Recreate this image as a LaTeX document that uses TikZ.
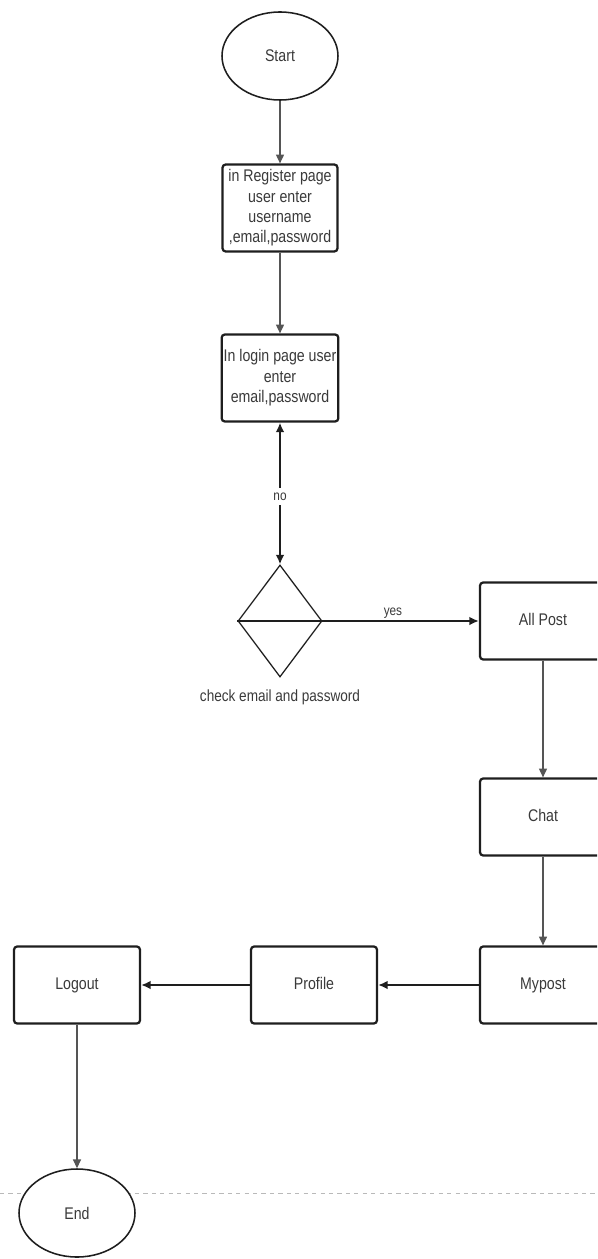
\documentclass[tikz,border=0pt]{standalone}
\usepackage{fontspec}
\setmainfont[FakeStretch=0.84]{Liberation Sans}
\usetikzlibrary{arrows.meta,positioning,shapes.geometric,calc}
\usepackage{xcolor}
\definecolor{ink}{HTML}{1E1E1E}
\definecolor{txt}{HTML}{3A3A3A}
\definecolor{thinline}{HTML}{555555}
\tikzset{
  stepbox/.style={draw=ink, rounded corners=0.8mm, line width=1.6pt, align=center, fill=white, text=txt, font=\fontsize{12}{14.5}\selectfont, inner sep=0.5mm},
  upbox/.style={stepbox, minimum width=2.875cm, minimum height=2.175cm},
  rowbox/.style={stepbox, minimum width=3.15cm, minimum height=1.925cm, text height=1.6ex, text depth=0.45ex},
  terminal/.style={ellipse, draw=ink, line width=1.1pt, fill=white, text=txt, font=\fontsize{12}{14}\selectfont, minimum width=2.9cm, minimum height=2.2cm},
  decision/.style={diamond, draw=ink, line width=0.9pt, minimum width=2.1cm, minimum height=2.8cm, inner sep=0pt},
  thinarrow/.style={-{Triangle[length=2.2mm,width=2mm]}, line width=0.9pt, draw=thinline},
  arrow/.style={-{Latex[length=2.4mm,width=2.2mm]}, line width=1.4pt, draw=ink},
  tag/.style={text=txt, font=\fontsize{10}{12}\selectfont}
}

\begin{document}
\begin{tikzpicture}
  \useasboundingbox (0,0) rectangle (14.925,-31.475);
  \clip (0,0) rectangle (14.925,-31.475);
  \coordinate (cutL) at (0,-29.825);
  \coordinate (cutR) at (14.925,-29.825);
  \draw[gray!55, dashed, line width=0.6pt] (cutL) -- (cutR);

  \node[terminal] (start) at (7.0,-1.4) {Start};
  \node[upbox] (register) at (7.0,-5.2) {in Register page\\user enter\\username\\,email,password};
  \node[upbox] (login) at (7.0,-9.45) {In login page user\\enter\\email,password};
  \node[decision] (check) at (7.0,-15.525) {};
  \node[tag, font=\fontsize{11.5}{13}\selectfont] (checklabel) at (7.0,-17.425) {check email and password};
  \node[rowbox] (allpost) at (13.575,-15.525) {All Post};
  \node[rowbox] (chat) at (13.575,-20.425) {Chat};
  \node[rowbox] (mypost) at (13.575,-24.625) {Mypost};
  \node[rowbox] (profile) at (7.85,-24.625) {Profile};
  \node[rowbox] (logout) at (1.925,-24.625) {Logout};
  \node[terminal] (end) at (1.925,-30.325) {End};

  \draw[thinarrow] (start) -- (register);
  \draw[thinarrow] (register) -- (login);
  \draw[arrow, {Latex[length=2.4mm,width=2.2mm]}-{Latex[length=2.4mm,width=2.2mm]}] (login) -- node[tag, fill=white, pos=0.52] {no} (check);
  \draw[line width=0.9pt, draw=ink] (check.west) -- (check.east);
  \draw[arrow] (check.east) -- node[tag, pos=0.45, above=-2.5pt] {yes} (allpost);
  \draw[thinarrow] (allpost) -- (chat);
  \draw[thinarrow] (chat) -- (mypost);
  \draw[arrow] (mypost) -- (profile);
  \draw[arrow] (profile) -- (logout);
  \draw[thinarrow] (logout) -- (end);
\end{tikzpicture}
\end{document}
